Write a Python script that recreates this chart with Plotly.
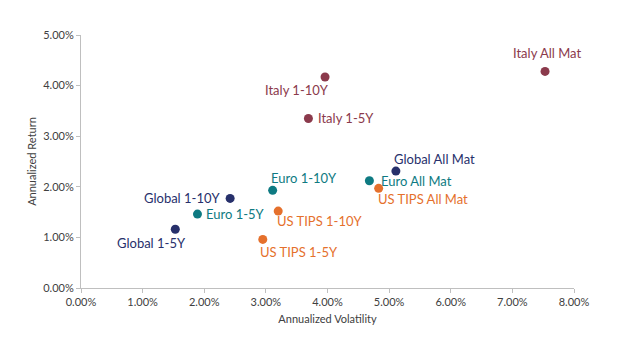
import plotly.graph_objects as go

names = ["Italy All Mat", "Italy 1-10Y", "Italy 1-5Y",
         "Global All Mat", "Global 1-10Y", "Global 1-5Y",
         "Euro All Mat", "Euro 1-10Y", "Euro 1-5Y",
         "US TIPS All Mat", "US TIPS 1-10Y", "US TIPS 1-5Y"]
groups = ["Italy", "Italy", "Italy",
          "Global", "Global", "Global",
          "Euro", "Euro", "Euro",
          "US TIPS", "US TIPS", "US TIPS"]
volatility = [7.53, 3.96, 3.69, 5.11, 2.42, 1.53, 4.68, 3.11, 1.89, 4.83, 3.20, 2.95]
returns = [4.28, 4.17, 3.35, 2.31, 1.77, 1.16, 2.12, 1.93, 1.46, 1.97, 1.52, 0.96]
x_ticks = [0, 1, 2, 3, 4, 5, 6, 7, 8]
y_ticks = [0, 1, 2, 3, 4, 5]

colors = {"Italy": "#8B3A4C", "Global": "#27306B", "Euro": "#0E7A82", "US TIPS": "#E5702C"}
# label placement (style): xanchor, yanchor, xshift, yshift
label_pos = {
    "Italy All Mat": ("center", "bottom", 2, 8),
    "Italy 1-10Y": ("right", "middle", 6, -13),
    "Italy 1-5Y": ("left", "middle", 8, 0),
    "Global All Mat": ("left", "middle", -4, 12),
    "Global 1-10Y": ("right", "middle", -8, 0),
    "Global 1-5Y": ("right", "middle", 13, -14),
    "Euro All Mat": ("left", "middle", 10, 0),
    "Euro 1-10Y": ("left", "middle", -4, 12),
    "Euro 1-5Y": ("left", "middle", 7, 0),
    "US TIPS All Mat": ("left", "middle", -3, -11),
    "US TIPS 1-10Y": ("left", "middle", -3, -10),
    "US TIPS 1-5Y": ("left", "middle", -5, -13),
}

fig = go.Figure()
for g in ["Italy", "Global", "Euro", "US TIPS"]:
    idx = [i for i, gg in enumerate(groups) if gg == g]
    fig.add_trace(go.Scatter(
        x=[volatility[i] for i in idx], y=[returns[i] for i in idx],
        mode="markers", name=g,
        marker=dict(size=9, color=colors[g]),
        showlegend=False, hoverinfo="skip"))

for n, g, xv, yv in zip(names, groups, volatility, returns):
    xa, ya, xs, ys = label_pos[n]
    fig.add_annotation(x=xv, y=yv, text=n, showarrow=False,
                       xanchor=xa, yanchor=ya, xshift=xs, yshift=ys,
                       font=dict(family="Lato", size=13, color=colors[g]))

axis_common = dict(showgrid=False, zeroline=False, showline=True,
                   linecolor="#BFBFBF", linewidth=1, ticks="outside",
                   ticklen=4, tickcolor="#BFBFBF",
                   tickfont=dict(family="Lato", size=11, color="#404040"))
fig.update_xaxes(range=[0, 8], tickvals=x_ticks,
                 ticktext=[f"{v:.2f}%" for v in x_ticks],
                 title=dict(text="Annualized Volatility", standoff=8,
                            font=dict(family="Lato", size=11, color="#404040")),
                 **axis_common)
fig.update_yaxes(range=[0, 5], tickvals=y_ticks,
                 ticktext=[f"{v:.2f}%" for v in y_ticks],
                 title=dict(text="Annualized Return", standoff=4,
                            font=dict(family="Lato", size=11, color="#404040")),
                 **axis_common)
fig.update_layout(width=640, height=338, plot_bgcolor="white", paper_bgcolor="white",
                  margin=dict(l=81, r=66, t=35, b=50))
fig.write_html("out.html")
